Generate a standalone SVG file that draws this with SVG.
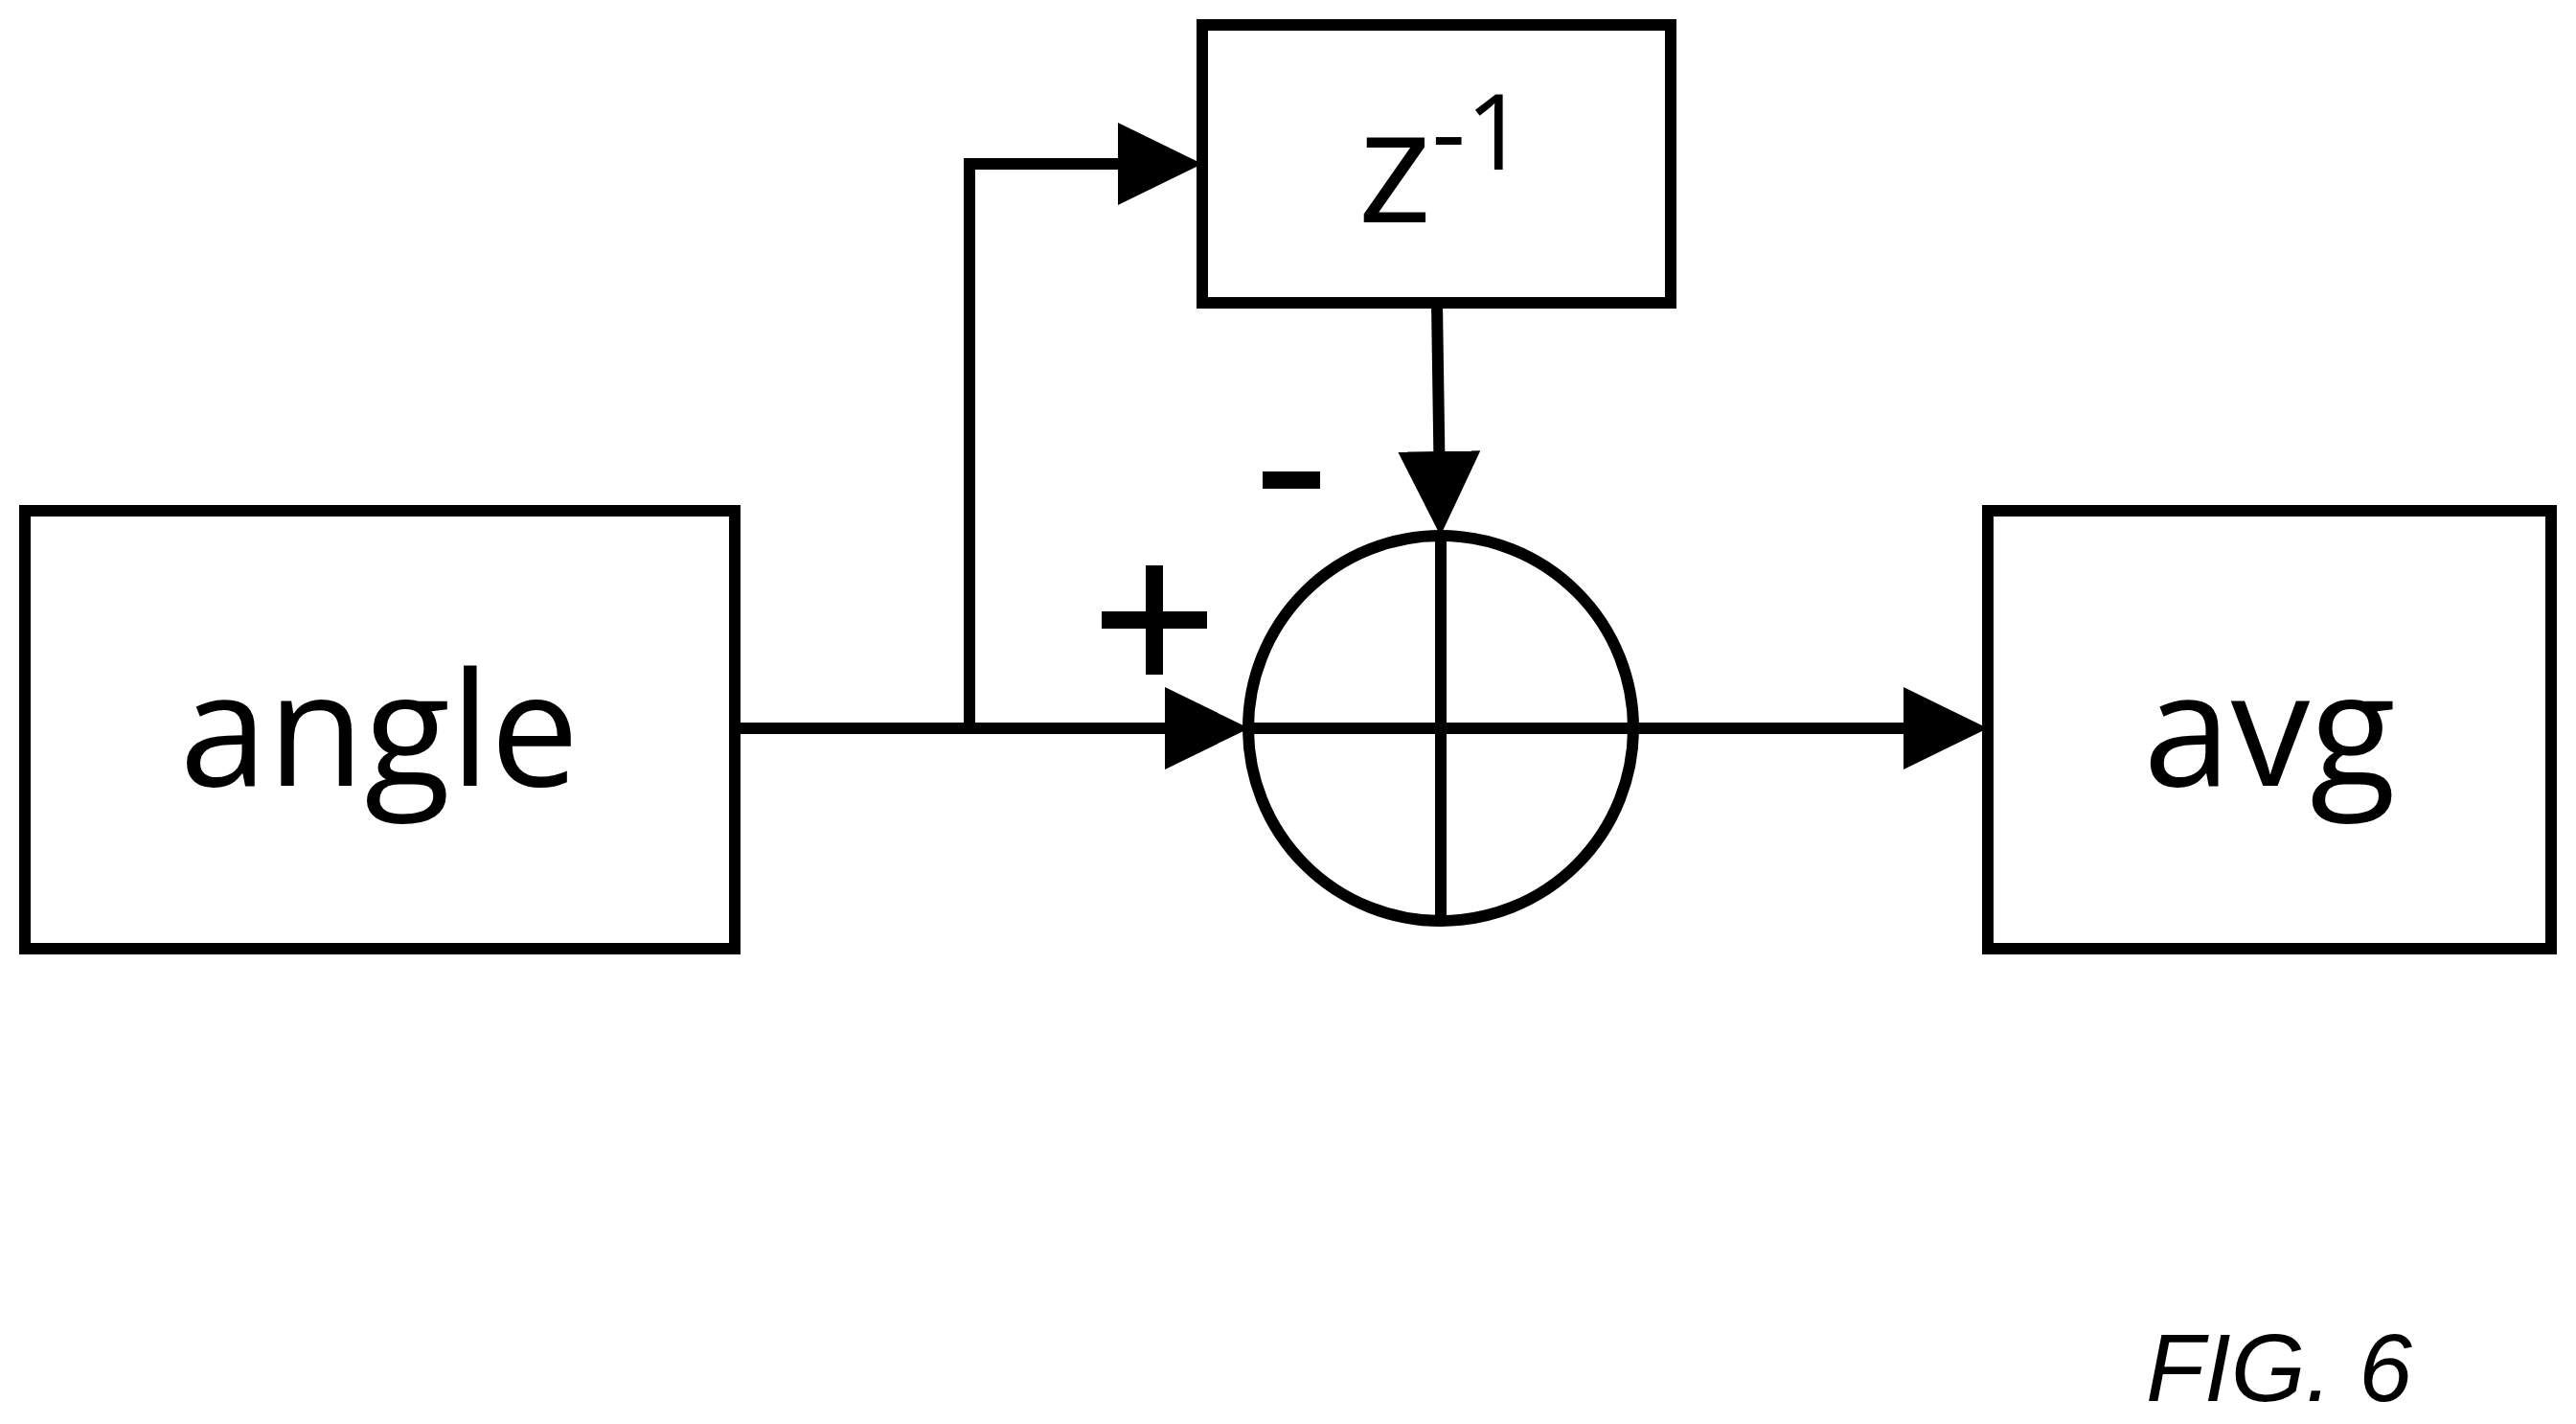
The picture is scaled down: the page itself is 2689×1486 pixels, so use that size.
<svg xmlns="http://www.w3.org/2000/svg" width="2689" height="1486" viewBox="0 0 2689 1486">
<style>
.b{fill:#fff;stroke:#000;stroke-width:12}
.l{fill:none;stroke:#000;stroke-width:12}
.t{font-family:"Open Sans",sans-serif;font-size:165px;fill:#000;text-anchor:middle}
</style>
<defs><marker id="a" markerUnits="userSpaceOnUse" markerWidth="90" markerHeight="86" refX="46" refY="43" orient="auto"><path d="M0,0L88,43L0,86Z" fill="#000"/></marker></defs>
<rect width="2689" height="1486" fill="#fff"/>
<g id="connectors">
<path class="l" d="M767,760H1262" marker-end="url(#a)"/>
<path class="l" d="M1012,760V171H1213" marker-end="url(#a)"/>
<path class="l" d="M1500,316L1503,517" marker-end="url(#a)"/>
<path class="l" d="M1706,760H2033" marker-end="url(#a)"/>
</g>
<g id="angle"><rect class="b" x="26" y="533" width="741" height="457"/><text class="t" x="396" y="820">angle</text></g>
<g id="delay"><rect class="b" x="1255" y="26" width="489" height="290"/><text class="t" x="1505" y="232">z<tspan font-size="110" dy="-55">-1</tspan></text></g>
<g id="avg"><rect class="b" x="2075" y="533" width="588" height="457"/><text class="t" x="2369" y="820">avg</text></g>
<g id="sum"><circle class="l" cx="1504" cy="760" r="201"/><path class="l" d="M1304,760H1706M1504,559V961"/></g>
<path d="M1150,647h110M1205,590v114" stroke="#000" stroke-width="18"/>
<path d="M1318,501h60" stroke="#000" stroke-width="18"/>
<text x="2240" y="1462" font-family="Liberation Sans,sans-serif" font-style="italic" font-size="100">FIG. 6</text>
</svg>
